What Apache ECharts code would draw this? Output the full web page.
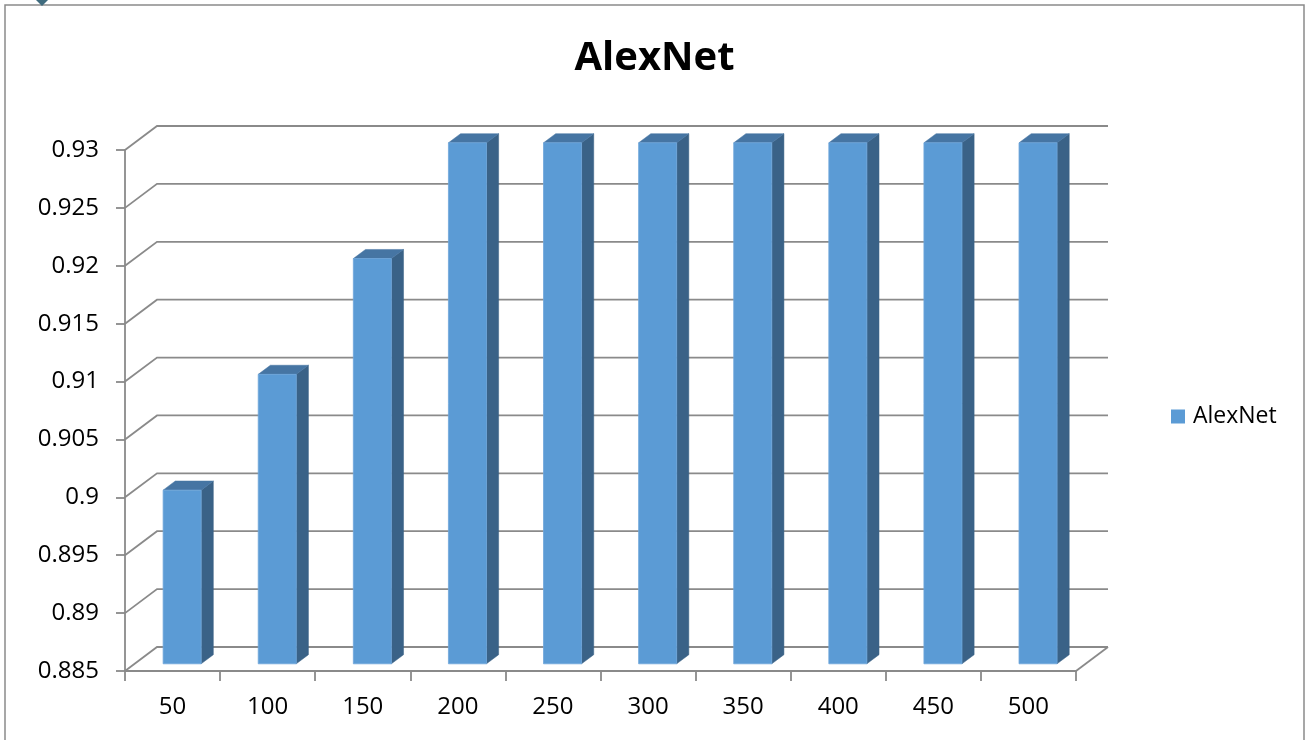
<!DOCTYPE html>
<html>
<head>
<meta charset="utf-8">
<title>AlexNet</title>
<script src="https://cdn.jsdelivr.net/npm/echarts@6/dist/echarts.min.js"></script>
<style>
  html, body { margin: 0; padding: 0; background: #ffffff; }
  #chart { width: 1309px; height: 740px; }
</style>
</head>
<body>
<div id="chart"></div>
<script>
// Epoch counts along the category axis
const categories = ['50', '100', '150', '200', '250', '300', '350', '400', '450', '500'];
// Accuracy for each epoch count
const accuracy = [0.90, 0.91, 0.92, 0.93, 0.93, 0.93, 0.93, 0.93, 0.93, 0.93];
// Value axis gridline levels
const yTicks = [0.885, 0.89, 0.895, 0.9, 0.905, 0.91, 0.915, 0.92, 0.925, 0.93];
const yMin = 0.885, yMax = 0.93, yStep = 0.005;

// Perspective offset from the front plane to the back wall (pixels)
const DEPTH_DX = 32, DEPTH_DY = -24;
const BAR_FRONT = 0.30, BAR_BACK = 0.68;  // bar depth span as fraction of full depth
const BAR_WIDTH = 0.40;                   // fraction of the category band

const GRID_COLOR = '#8a8a8a';
const LINE_W = 1.8;
const FONT = '"Open Sans", "Liberation Sans", sans-serif';

const chart = echarts.init(document.getElementById('chart'), null, { renderer: 'canvas' });

// Back wall gridlines, with the diagonal connectors to the front value axis
function renderWall(params, api) {
  const cs = params.coordSys;
  const v = api.value(1);
  const y = api.coord([0, v])[1];
  const x0 = cs.x, x1 = cs.x + cs.width;
  const children = [{
    type: 'polyline',
    shape: { points: [[x0, y], [x0 + DEPTH_DX, y + DEPTH_DY], [x1 + DEPTH_DX, y + DEPTH_DY]] },
    style: { stroke: GRID_COLOR, lineWidth: LINE_W, fill: null }
  }];
  if (Math.abs(v - yMin) < 1e-9) {
    // right edge of the floor
    children.push({
      type: 'line',
      shape: { x1: x1, y1: y, x2: x1 + DEPTH_DX, y2: y + DEPTH_DY },
      style: { stroke: GRID_COLOR, lineWidth: LINE_W }
    });
  }
  return { type: 'group', children: children };
}

// 3D column: front face, top face and right side face
function renderBar(params, api) {
  const i = api.value(0);
  const v = api.value(1);
  const top = api.coord([i, v]);
  const base = api.coord([i, yMin]);
  const band = api.size([1, 0])[0];
  const w = band * BAR_WIDTH;
  const fdx = BAR_FRONT * DEPTH_DX, fdy = BAR_FRONT * DEPTH_DY;
  const sdx = (BAR_BACK - BAR_FRONT) * DEPTH_DX, sdy = (BAR_BACK - BAR_FRONT) * DEPTH_DY;
  const xl = top[0] - w / 2 + fdx, xr = top[0] + w / 2 + fdx;
  const yt = top[1] + fdy, yb = base[1] + fdy;
  return {
    type: 'group',
    children: [
      {
        type: 'polygon',
        shape: { points: [[xr, yt], [xr + sdx, yt + sdy], [xr + sdx, yb + sdy], [xr, yb]] },
        style: { fill: '#3A6287', stroke: '#3A6287', lineWidth: 0.5 }
      },
      {
        type: 'polygon',
        shape: { points: [[xl, yt], [xr, yt], [xr + sdx, yt + sdy], [xl + sdx, yt + sdy]] },
        style: { fill: '#4675A3', stroke: '#4675A3', lineWidth: 0.5 }
      },
      {
        type: 'rect',
        shape: { x: xl, y: yt, width: xr - xl, height: yb - yt },
        style: { fill: '#5B9BD5', stroke: '#6FA6DA', lineWidth: 0.8 }
      }
    ]
  };
}

const option = {
  animation: false,
  backgroundColor: '#ffffff',
  title: {
    text: 'AlexNet',
    left: 'center',
    top: 39,
    padding: 0,
    textStyle: { fontFamily: FONT, fontSize: 40, fontWeight: 'bold', color: '#000000' }
  },
  legend: {
    left: 1171,
    top: 405,
    padding: 0,
    itemWidth: 14,
    itemHeight: 14,
    itemGap: 10,
    icon: 'rect',
    textStyle: { fontFamily: FONT, fontSize: 23, color: '#000000', padding: [0, 0, 0, 3] },
    data: ['AlexNet']
  },
  grid: { left: 125, right: 233, top: 150, bottom: 69 },
  xAxis: {
    type: 'category',
    data: categories,
    boundaryGap: true,
    axisLine: { show: true, lineStyle: { color: GRID_COLOR, width: LINE_W } },
    axisTick: { show: true, length: 10, interval: 0, lineStyle: { color: GRID_COLOR, width: LINE_W } },
    axisLabel: { margin: 24, fontFamily: FONT, fontSize: 24, color: '#000000', interval: 0 },
    splitLine: { show: false }
  },
  yAxis: {
    type: 'value',
    min: yMin,
    max: yMax,
    interval: yStep,
    axisLine: { show: true, lineStyle: { color: GRID_COLOR, width: LINE_W } },
    axisTick: { show: true, length: 9, lineStyle: { color: GRID_COLOR, width: LINE_W } },
    axisLabel: {
      margin: 26, fontFamily: FONT, fontSize: 24, color: '#000000',
      formatter: v => String(+v.toFixed(3))
    },
    splitLine: { show: false }
  },
  series: [
    {
      name: 'wall',
      type: 'custom',
      clip: false,
      silent: true,
      z: 1,
      renderItem: renderWall,
      data: yTicks.map(v => [0, v])
    },
    {
      name: 'AlexNet',
      type: 'custom',
      clip: false,
      z: 3,
      itemStyle: { color: '#5B9BD5' },
      renderItem: renderBar,
      encode: { x: 0, y: 1 },
      data: accuracy.map((v, i) => [i, v])
    }
  ],
  graphic: [
    {
      type: 'rect',
      z: 100,
      silent: true,
      shape: { x: 5, y: 5, width: 1299, height: 745 },
      style: { fill: null, stroke: '#8a8a8a', lineWidth: 1.5 }
    },
    {
      type: 'polygon',
      z: 101,
      silent: true,
      shape: { points: [[42, -7], [48.5, -0.5], [42, 6], [35.5, -0.5]] },
      style: { fill: '#3F6B7E' }
    }
  ]
};

chart.setOption(option);
</script>
</body>
</html>
